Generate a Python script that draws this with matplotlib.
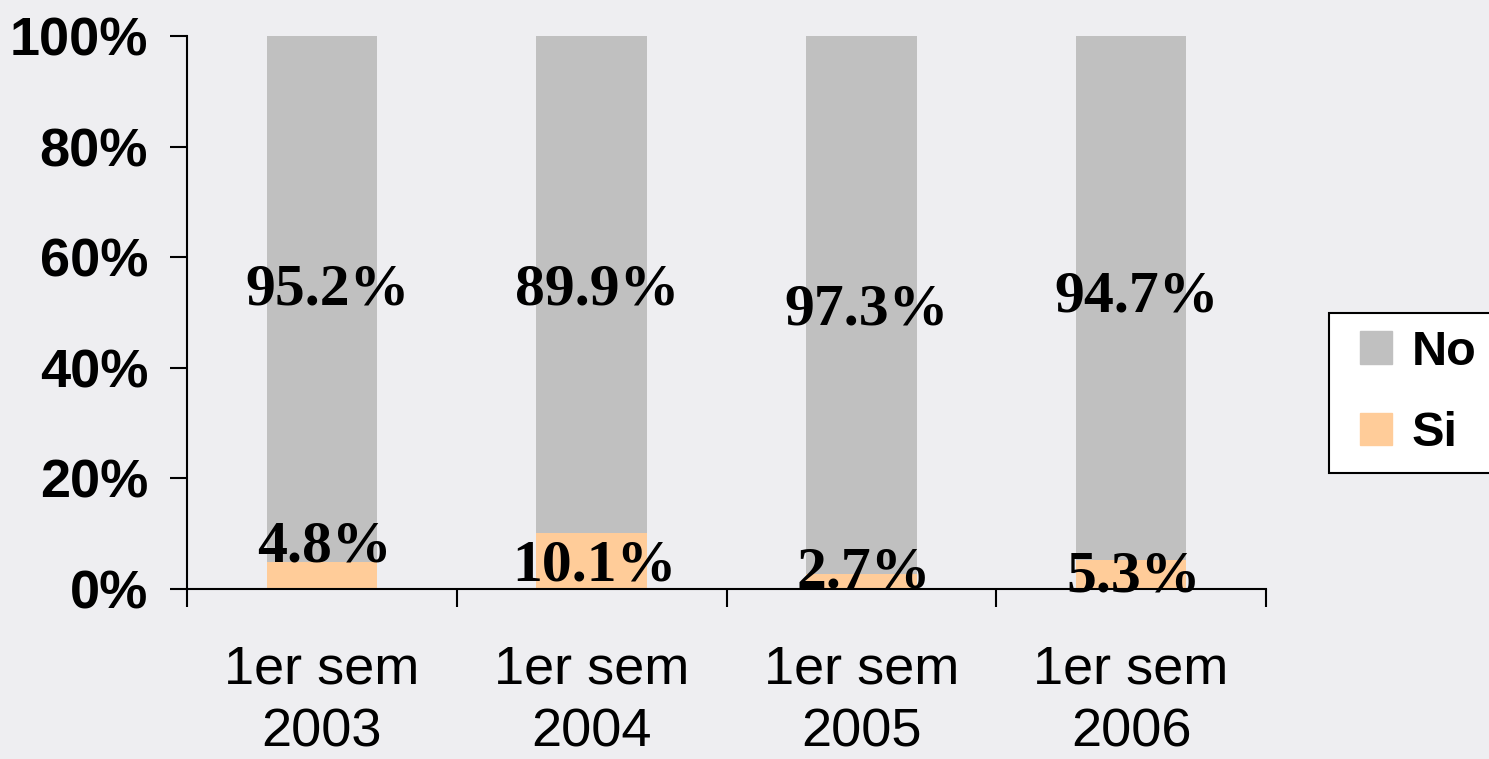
import numpy as np
import matplotlib.pyplot as plt
from matplotlib.patches import Patch, Rectangle
from matplotlib.legend_handler import HandlerPatch

categories = ['1er sem\n2003', '1er sem\n2004', '1er sem\n2005', '1er sem\n2006']
si = [4.8, 10.1, 2.7, 5.3]
no = [95.2, 89.9, 97.3, 94.7]
yticks = [0, 20, 40, 60, 80, 100]

# label nudges in points (the original labels are not exactly centred)
no_dy = [6, -4, -4, 0]
si_dy = [20, -4, 6, -2]

grey = '#c0c0c0'
peach = '#ffcc99'


def right_square(legend, orig_handle, xdescent, ydescent, width, height, fontsize):
    # square swatch pushed to the right end of the handle box
    return Rectangle((-xdescent + width - height, -ydescent), height, height)


fig = plt.figure(figsize=(14.89, 7.59), dpi=100, facecolor='#eeeef1')
ax = fig.add_axes([187 / 1489, 1 - 589 / 759, (1266 - 187) / 1489, (589 - 36) / 759])
ax.set_facecolor('none')

x = np.arange(len(categories))
w = 0.41
ax.bar(x, si, w, color=peach, zorder=2)
ax.bar(x, no, w, bottom=si, color=grey, zorder=2)

for i in range(len(x)):
    ax.annotate(f'{no[i]:.1f}%', (x[i], si[i] + no[i] / 2), xytext=(4, no_dy[i]),
                textcoords='offset points', ha='center', va='center',
                family='Liberation Serif', weight='bold', fontsize=43, zorder=3)
    ax.annotate(f'{si[i]:.1f}%', (x[i], si[i] / 2), xytext=(2, si_dy[i]),
                textcoords='offset points', ha='center', va='center',
                family='Liberation Serif', weight='bold', fontsize=43, zorder=3)

ax.set_xlim(-0.5, len(x) - 0.5)
ax.set_ylim(0, 100)
ax.set_yticks(yticks)
ax.set_yticklabels([f'{v}%' for v in yticks], family='Liberation Sans', weight='bold', fontsize=39)
ax.tick_params(axis='y', direction='out', length=12, width=1.5, pad=16)

ax.set_xticks(x)
ax.set_xticklabels(categories, family='Liberation Sans', fontsize=39, linespacing=1.33)
ax.set_xticks(np.arange(-0.5, len(x), 1.0), minor=True)
ax.tick_params(axis='x', which='major', length=0, pad=40)
ax.tick_params(axis='x', which='minor', direction='out', length=13, width=1.5)

for s in ['top', 'right']:
    ax.spines[s].set_visible(False)
for s in ['left', 'bottom']:
    ax.spines[s].set_linewidth(1.5)

handles = [Patch(color=grey, label='No'), Patch(color=peach, label='Si')]
leg = fig.legend(handles=handles, loc='lower left', bbox_to_anchor=(1329 / 1489, 1 - 473 / 759),
                 borderaxespad=0,
                 handler_map={Patch: HandlerPatch(patch_func=right_square)},
                 prop={'family': 'Liberation Sans', 'weight': 'bold', 'size': 35},
                 fancybox=False, edgecolor='black', framealpha=1, handlelength=0.95,
                 handleheight=0.65, handletextpad=0.4, labelspacing=0.75, borderpad=0.35)
leg.get_frame().set_linewidth(1.5)

fig.savefig('out.png', dpi=100, facecolor=fig.get_facecolor())
